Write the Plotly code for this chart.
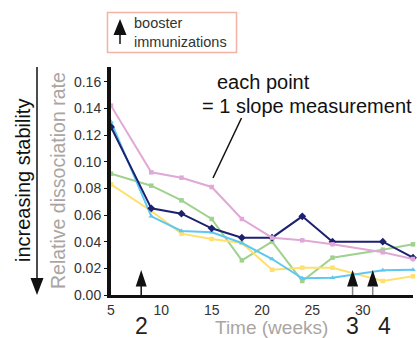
import plotly.graph_objects as go

weeks = [5, 9, 12, 15, 18, 21, 24, 27, 32, 35]
pink = [0.142, 0.092, 0.088, 0.081, 0.057, 0.043, 0.041, 0.038, 0.032, 0.027]
navy = [0.126, 0.065, 0.061, 0.050, 0.043, 0.043, 0.059, 0.040, 0.040, 0.028]
light_blue = [0.130, 0.059, 0.048, 0.047, 0.039, 0.027, 0.0125, 0.013, 0.0186, 0.019]
green = [0.091, 0.082, 0.071, 0.057, 0.026, 0.040, 0.0105, 0.028, 0.034, 0.038]
yellow = [0.083, 0.063, 0.046, 0.042, 0.039, 0.019, 0.0205, 0.0205, 0.0105, 0.014]

booster_weeks = [8, 29, 31]
booster_labels = ["2", "3", "4"]
yticks = [0.00, 0.02, 0.04, 0.06, 0.08, 0.10, 0.12, 0.14, 0.16]
xticks = [5, 10, 15, 20, 25, 30, 35]

W, H = 417, 338
L, R, T, B = 111, 4, 67, 43
PW, PH = W - L - R, H - T - B


def px(x):
    return (x - L) / PW


def py(y):
    return (H - B - y) / PH


FONT = "Liberation Sans, Arial, sans-serif"

fig = go.Figure()
series = [
    ("green", green, "#9fd18f", "square", 4.5),
    ("yellow", yellow, "#ffe06a", "square", 4.5),
    ("light blue", light_blue, "#5ec8f2", "triangle-up", 5),
    ("navy", navy, "#1c2170", "diamond", 6),
    ("pink", pink, "#e0a8d6", "square", 4.5),
]
for name, vals, col, sym, sz in series:
    fig.add_trace(go.Scatter(
        x=weeks, y=vals, mode="lines+markers", name=name,
        line=dict(color=col, width=2),
        marker=dict(color=col, symbol=sym, size=sz),
        showlegend=False, cliponaxis=False, hoverinfo="skip",
    ))

shapes = []
annotations = []

# booster arrows on the plot
label_px = [141, 352, 384]
for i, (w, lab) in enumerate(zip(booster_weeks, booster_labels)):
    stem_col = "#111111" if i == 0 else "#888888"
    shapes.append(dict(type="path", xref="x", yref="y", xsizemode="pixel", ysizemode="pixel",
                       xanchor=w, yanchor=0, path="M -5.5,8.5 L 5.5,8.5 L 0,25 Z",
                       fillcolor="#111111", line=dict(width=0)))
    shapes.append(dict(type="line", xref="x", yref="y", xsizemode="pixel", ysizemode="pixel",
                       xanchor=w, yanchor=0, x0=0, x1=0, y0=0, y1=9,
                       line=dict(color=stem_col, width=1.5)))
    annotations.append(dict(x=px(label_px[i]), xref="paper", y=py(326), yref="paper", text=lab,
                            showarrow=False, font=dict(size=23, color="#222222", family=FONT),
                            xanchor="center", yanchor="middle"))

annotations.append(dict(x=px(271), xref="paper", y=py(327), yref="paper", text="Time (weeks)",
                        showarrow=False, font=dict(size=19, color="#aaa5a2", family=FONT),
                        xanchor="center", yanchor="middle"))

# y titles
annotations.append(dict(x=px(58), xref="paper", y=py(181), yref="paper",
                        text="Relative dissociation rate", textangle=-90, showarrow=False,
                        font=dict(size=19.5, color="#aaa5a2", family=FONT),
                        xanchor="center", yanchor="middle"))
annotations.append(dict(x=px(23), xref="paper", y=py(181), yref="paper",
                        text="increasing stability", textangle=-90, showarrow=False,
                        font=dict(size=20, color="#111111", family=FONT),
                        xanchor="center", yanchor="middle"))
shapes.append(dict(type="line", xref="paper", yref="paper", x0=px(37), x1=px(37),
                   y0=py(67), y1=py(280), line=dict(color="#111111", width=1.5)))
shapes.append(dict(type="path", xref="paper", yref="paper",
                   path=f"M {px(30.5)},{py(278)} L {px(43.5)},{py(278)} L {px(37)},{py(295)} Z",
                   fillcolor="#111111", line=dict(width=0)))

# legend box
shapes.append(dict(type="rect", xref="paper", yref="paper", x0=px(107.5), x1=px(236.5),
                   y0=py(52.5), y1=py(12.5), line=dict(color="#f2b2a4", width=1.5),
                   fillcolor="rgba(0,0,0,0)"))
shapes.append(dict(type="path", xref="paper", yref="paper",
                   path=f"M {px(113.5)},{py(35)} L {px(126.5)},{py(35)} L {px(120)},{py(19)} Z",
                   fillcolor="#111111", line=dict(width=0)))
shapes.append(dict(type="line", xref="paper", yref="paper", x0=px(120), x1=px(120),
                   y0=py(34), y1=py(44), line=dict(color="#111111", width=1.5)))
annotations.append(dict(x=px(132), xref="paper", y=py(33), yref="paper",
                        text="booster<br>immunizations", showarrow=False, align="left",
                        font=dict(size=14.5, color="#333333", family=FONT),
                        xanchor="left", yanchor="middle"))

# callout
annotations.append(dict(x=px(263), xref="paper", y=py(82), yref="paper", text="each point",
                        showarrow=False, font=dict(size=20, color="#111111", family=FONT),
                        xanchor="center", yanchor="middle"))
annotations.append(dict(x=px(414), xref="paper", y=py(106), yref="paper",
                        text="= 1 slope measurement", showarrow=False,
                        font=dict(size=20, color="#111111", family=FONT),
                        xanchor="right", yanchor="middle"))
shapes.append(dict(type="line", xref="paper", yref="paper", x0=px(241.5), x1=px(213),
                   y0=py(118), y1=py(178), line=dict(color="#111111", width=1.5)))

fig.update_layout(
    width=W, height=H,
    margin=dict(l=L, r=R, t=T, b=B),
    plot_bgcolor="white", paper_bgcolor="white",
    shapes=shapes, annotations=annotations,
    font=dict(family=FONT, color="#333333", size=14),
    xaxis=dict(range=[5, 35], tickvals=xticks, showgrid=False, zeroline=False,
               showline=True, linecolor="#111111", linewidth=3,
               ticks="",
               tickfont=dict(size=14, color="#333333")),
    yaxis=dict(range=[0, 0.171], tickvals=yticks, tickformat=".2f", showgrid=False,
               zeroline=False, showline=True, linecolor="#111111", linewidth=4,
               ticks="outside", ticklen=3, tickcolor="#111111",
               tickfont=dict(size=14, color="#333333")),
)

fig.write_html("out.html", config={"displayModeBar": False},
               post_script="document.body.style.margin='0';")
